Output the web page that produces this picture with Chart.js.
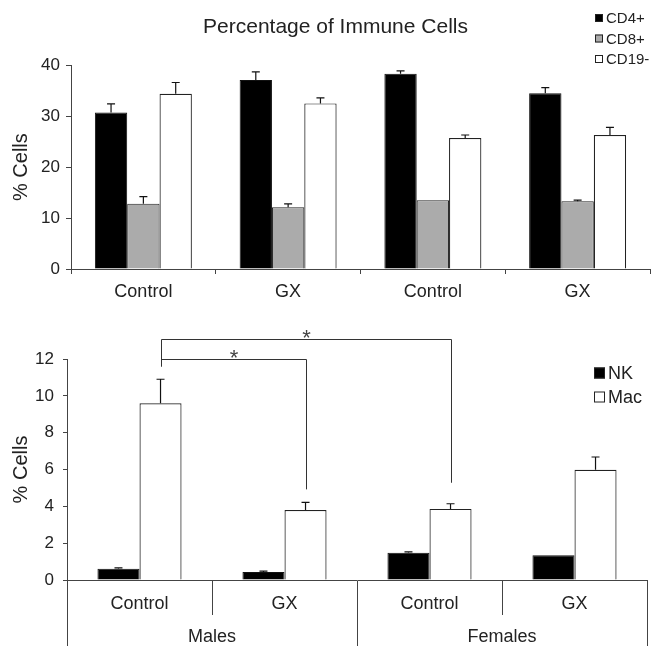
<!DOCTYPE html>
<html>
<head>
<meta charset="utf-8">
<script src="https://cdn.jsdelivr.net/npm/chart.js@4"></script>
<style>
  body { margin: 0; background: #fff; }
  #wrap { position: relative; width: 651px; height: 646px; }
  #top_chart { position: absolute; left: 0; top: 0; }
  #bottom_chart { position: absolute; left: 0; top: 305px; }
</style>
</head>
<body>
<div id="wrap">
  <canvas id="top_chart" width="651" height="305"></canvas>
  <canvas id="bottom_chart" width="651" height="341"></canvas>
</div>
<script>
// top panel
var groups = ['Control', 'GX', 'Control', 'GX'];
var cd4 = [30.7, 37.1, 38.3, 34.5];
var cd4_err = [1.7, 1.6, 0.6, 1.1];
var cd8 = [12.8, 12.1, 13.5, 13.3];
var cd8_err = [1.4, 0.7, 0, 0.2];
var cd19 = [34.4, 32.5, 25.7, 26.3];
var cd19_err = [2.2, 1.1, 0.6, 1.5];

// bottom panel
var sexes = ['Males', 'Females'];
var nk = [0.61, 0.43, 1.48, 1.34];
var nk_err = [0.05, 0.05, 0.05, 0];
var mac = [9.6, 3.8, 3.86, 5.98];
var mac_err = [1.3, 0.42, 0.28, 0.7];

// significance brackets on the Mac bars: [from, to, level, leg end]
var brackets = [
  [0, 1, 12.0, 4.92],
  [0, 2, 13.08, 5.28]
];
var bracket_left_end = 11.58;

var ink = '#222';
var axis_color = '#444';

Chart.defaults.font.family = '"Liberation Sans", Arial, sans-serif';
Chart.defaults.color = ink;
Chart.defaults.animation = false;

var errorBars = {
  id: 'errorBars',
  afterDatasetsDraw: function(chart) {
    var ctx = chart.ctx;
    var yScale = chart.scales.y;
    ctx.save();
    ctx.strokeStyle = '#111';
    ctx.lineWidth = 1.2;
    chart.data.datasets.forEach(function(ds, di) {
      var meta = chart.getDatasetMeta(di);
      meta.data.forEach(function(bar, i) {
        var err = ds.errors[i];
        if (!err) return;
        var yTop = yScale.getPixelForValue(ds.data[i] + err);
        ctx.beginPath();
        ctx.moveTo(bar.x, bar.y);
        ctx.lineTo(bar.x, yTop);
        ctx.moveTo(bar.x - 4, yTop);
        ctx.lineTo(bar.x + 4, yTop);
        ctx.stroke();
      });
    });
    ctx.restore();
  }
};

function boxLegend(x, y0, step, box, fontSize) {
  return {
    id: 'boxLegend',
    afterDraw: function(chart) {
      var ctx = chart.ctx;
      ctx.save();
      ctx.font = fontSize + 'px "Liberation Sans", Arial, sans-serif';
      ctx.textBaseline = 'middle';
      chart.data.datasets.forEach(function(ds, i) {
        var y = y0 + i * step;
        ctx.fillStyle = ds.backgroundColor;
        ctx.fillRect(x, y - box / 2, box, box);
        ctx.strokeStyle = '#222';
        ctx.lineWidth = 1;
        ctx.strokeRect(x + 0.5, y - box / 2 + 0.5, box - 1, box - 1);
        ctx.fillStyle = ink;
        ctx.fillText(ds.label, x + box + 3, y + 1);
      });
      ctx.restore();
    }
  };
}

var sigBrackets = {
  id: 'sigBrackets',
  afterDraw: function(chart) {
    var ctx = chart.ctx;
    var yScale = chart.scales.y;
    var macBars = chart.getDatasetMeta(1).data;
    ctx.save();
    ctx.strokeStyle = '#333';
    ctx.lineWidth = 1;
    ctx.fillStyle = '#444';
    ctx.font = '22px "Liberation Sans", Arial, sans-serif';
    ctx.textAlign = 'center';
    ctx.textBaseline = 'alphabetic';
    var x0 = Math.round(macBars[0].x) + 0.5;
    var topLevel = Math.max.apply(null, brackets.map(function(b) { return b[2]; }));
    ctx.beginPath();
    ctx.moveTo(x0, Math.round(yScale.getPixelForValue(topLevel)) + 0.5);
    ctx.lineTo(x0, yScale.getPixelForValue(bracket_left_end));
    ctx.stroke();
    brackets.forEach(function(b) {
      var x1 = Math.round(macBars[b[1]].x) + 0.5;
      var yl = Math.round(yScale.getPixelForValue(b[2])) + 0.5;
      ctx.beginPath();
      ctx.moveTo(x0, yl);
      ctx.lineTo(x1, yl);
      ctx.lineTo(x1, yScale.getPixelForValue(b[3]));
      ctx.stroke();
      ctx.fillText('*', (x0 + x1) / 2, yl + 5);
    });
    ctx.restore();
  }
};

var topChart = new Chart(document.getElementById('top_chart').getContext('2d'), {
  type: 'bar',
  data: {
    labels: groups,
    datasets: [
      { label: 'CD4+', data: cd4, errors: cd4_err, backgroundColor: '#000', borderColor: '#111', borderWidth: 1 },
      { label: 'CD8+', data: cd8, errors: cd8_err, backgroundColor: '#ababab', borderColor: '#222', borderWidth: 1 },
      { label: 'CD19-', data: cd19, errors: cd19_err, backgroundColor: '#fff', borderColor: '#222', borderWidth: 1.2 }
    ]
  },
  options: {
    responsive: false,
    layout: { padding: { left: 21, right: 1, top: 0, bottom: 0 } },
    categoryPercentage: 0.67,
    barPercentage: 1,
    plugins: {
      legend: { display: false },
      tooltip: { enabled: false },
      title: {
        display: true,
        text: 'Percentage of Immune Cells',
        color: ink,
        font: { size: 21, weight: 'normal' },
        padding: { top: 15, bottom: 25 }
      }
    },
    scales: {
      x: {
        grid: { offset: true, drawOnChartArea: false, drawTicks: true, tickLength: 5, color: axis_color },
        border: { color: axis_color, width: 1 },
        ticks: { font: { size: 18 }, padding: 7, color: ink },
        afterFit: function(scale) { scale.height = 36; }
      },
      y: {
        min: 0,
        max: 40,
        ticks: { stepSize: 10, font: { size: 17 }, padding: 6, color: ink },
        grid: { drawOnChartArea: false, drawTicks: true, tickLength: 5, color: axis_color },
        border: { color: axis_color, width: 1 },
        title: { display: true, text: '% Cells', font: { size: 20 }, color: ink, padding: { top: -12, bottom: 0 } },
        afterFit: function(scale) { scale.width = 50; }
      }
    }
  },
  plugins: [errorBars, boxLegend(595, 18, 20.5, 8, 15)]
});

var bottomChart = new Chart(document.getElementById('bottom_chart').getContext('2d'), {
  type: 'bar',
  data: {
    labels: groups,
    datasets: [
      { label: 'NK', data: nk, errors: nk_err, backgroundColor: '#000', borderColor: '#111', borderWidth: 1 },
      { label: 'Mac', data: mac, errors: mac_err, backgroundColor: '#fff', borderColor: '#222', borderWidth: 1.2 }
    ]
  },
  options: {
    responsive: false,
    layout: { padding: { left: 0, right: 4, top: 54, bottom: 0 } },
    categoryPercentage: 0.58,
    barPercentage: 1,
    plugins: {
      legend: { display: false },
      tooltip: { enabled: false }
    },
    scales: {
      x: {
        grid: { offset: true, drawOnChartArea: false, drawTicks: true, tickLength: 35, color: axis_color },
        border: { color: axis_color, width: 1 },
        ticks: { font: { size: 18 }, padding: -22, color: ink },
        afterFit: function(scale) { scale.height = 35; }
      },
      x2: {
        type: 'category',
        position: 'bottom',
        labels: sexes,
        offset: true,
        weight: 1,
        grid: { offset: true, drawOnChartArea: false, drawTicks: true, tickLength: 31, color: axis_color },
        border: { display: false },
        ticks: { font: { size: 18 }, padding: -20, color: ink },
        afterFit: function(scale) { scale.height = 31; }
      },
      y: {
        min: 0,
        max: 12,
        ticks: { stepSize: 2, font: { size: 17 }, padding: 9, color: ink },
        grid: { drawOnChartArea: false, drawTicks: true, tickLength: 4, color: axis_color },
        border: { color: axis_color, width: 1 },
        title: { display: true, text: '% Cells', font: { size: 20 }, color: ink, padding: { top: 9, bottom: 0 } },
        afterFit: function(scale) { scale.width = 67; }
      }
    }
  },
  plugins: [errorBars, sigBrackets, boxLegend(594, 68, 24, 11, 18)]
});
</script>
</body>
</html>
